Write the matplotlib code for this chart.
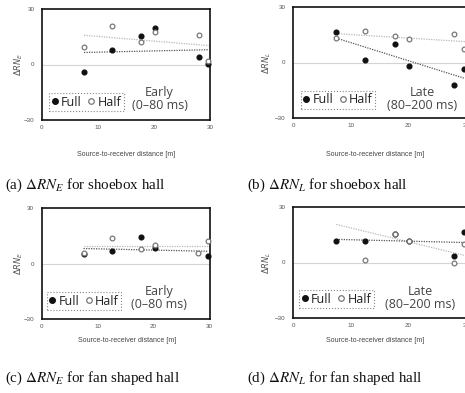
import numpy as np
import matplotlib
matplotlib.use("Agg")
import matplotlib.pyplot as plt
from matplotlib.lines import Line2D

plt.rcParams['font.family'] = ['Open Sans', 'DejaVu Sans']

# ---------------- data ----------------
distance = [7.5, 12.5, 17.7, 20.2, 28.0, 29.7]
nan = np.nan

a_full = [-3.8, 7.6, 15.5, 20.0, 4.0, 0.3]
a_half = [9.2, 20.6, 11.9, 17.7, 15.7, 2.0]
b_full = [16.4, 1.2, 10.2, -1.9, -12.2, -3.7]
b_half = [13.4, 16.8, 14.5, 12.5, 15.4, 7.3]
c_full = [5.0, 6.8, 14.2, 8.3, nan, 4.1]
c_half = [5.9, 13.6, 7.9, 9.9, 5.6, 12.2]
d_full = [11.75, 11.75, 15.5, 11.75, 3.4, 16.6]
d_half = [nan, 1.6, 15.2, 11.75, -0.4, 10.1]

trend_x = [7.5, 29.8]
a_full_trend = [6.5, 8.0]
a_half_trend = [15.8, 10.2]
b_full_trend = [13.2, -8.6]
b_half_trend = [15.6, 11.3]
c_full_trend = [8.1, 6.6]
c_half_trend = [9.2, 9.2]
d_full_trend = [12.5, 10.8]
d_half_trend = [20.6, 3.8]

x_ticks = [0, 10, 20, 30]
y_ticks = [-30, 0, 30]
ylabels = [r'$\mathit{\Delta RN_E}$', r'$\mathit{\Delta RN_L}$', r'$\mathit{\Delta RN_E}$', r'$\mathit{\Delta RN_L}$']
periods = ['Early\n(0\u201380 ms)', 'Late\n(80\u2013200 ms)', 'Early\n(0\u201380 ms)', 'Late\n(80\u2013200 ms)']
captions = ['(a) $\\mathit{\u0394RN_E}$ for shoebox hall',
            '(b) $\\mathit{\u0394RN_L}$ for shoebox hall',
            '(c) $\\mathit{\u0394RN_E}$ for fan shaped hall',
            '(d) $\\mathit{\u0394RN_L}$ for fan shaped hall']
xlabel = 'Source-to-receiver distance [m]'
legend_labels = ['Full', 'Half']

# ---------------- layout ----------------
W, H = 465, 393
fig = plt.figure(figsize=(W / 100, H / 100), dpi=100)


def px_axes(l, t, w, h):
    return fig.add_axes([l / W, 1 - (t + h) / H, w / W, h / H])


panels = [
    dict(box=(42, 9, 168, 111), full=a_full, half=a_half, ft=a_full_trend, ht=a_half_trend,
         leg=(0.042, 0.081), txt=(0.70, 0.185), ylab=-0.10),
    dict(box=(293, 7, 173, 111), full=b_full, half=b_half, ft=b_full_trend, ht=b_half_trend,
         leg=(0.045, 0.085), txt=(0.745, 0.175), ylab=-0.115),
    dict(box=(41.5, 208, 168, 111), full=c_full, half=c_half, ft=c_full_trend, ht=c_half_trend,
         leg=(0.03, 0.08), txt=(0.70, 0.19), ylab=-0.10),
    dict(box=(293, 207, 173, 111), full=d_full, half=d_half, ft=d_full_trend, ht=d_half_trend,
         leg=(0.035, 0.09), txt=(0.735, 0.18), ylab=-0.115),
]
xlabel_pos = [(126, 155), (375, 155), (127, 340), (375, 340)]
caption_pos = [(5, 185), (247, 185), (5, 378), (247, 378)]

for i, p in enumerate(panels):
    ax = px_axes(*p['box'])
    ax.set_xlim(0, 30)
    ax.set_ylim(-30, 30)
    ax.set_xticks(x_ticks)
    ax.set_yticks(y_ticks)
    ax.tick_params(length=0, labelsize=4.5, labelcolor='#555555')
    ax.tick_params(axis='x', pad=3.6)
    ax.tick_params(axis='y', pad=5.5)
    for lab in ax.get_xticklabels() + ax.get_yticklabels():
        lab.set_family('Liberation Sans')
    for s in ax.spines.values():
        s.set_linewidth(1.2)
        s.set_color('#111111')
    ax.axhline(0, color='#d4d4d4', lw=0.8, zorder=1)

    ax.plot(trend_x, p['ht'], ls=(0, (1, 1)), color='#b8b8b8', lw=0.9, zorder=2)
    ax.plot(trend_x, p['ft'], ls=(0, (1, 1)), color='#555555', lw=0.9, zorder=2)
    ax.plot(distance, p['full'], 'o', ms=3.4, color='#111111', zorder=3, clip_on=False)
    ax.plot(distance, p['half'], 'o', ms=3.4, mfc='white', mec='#777777', mew=0.9,
            zorder=4, clip_on=False)

    ax.set_ylabel(ylabels[i], fontsize=6, color='#555555', math_fontfamily='dejavusans')
    ax.yaxis.set_label_coords(p['ylab'], 0.5)

    handles = [Line2D([], [], ls='none', marker='o', ms=4, color='#111111'),
               Line2D([], [], ls='none', marker='o', ms=4, mfc='white', mec='#777777', mew=0.9)]
    leg = ax.legend(handles, legend_labels, loc='lower left', bbox_to_anchor=p['leg'],
                    ncol=2, fontsize=9, handlelength=0.5, handletextpad=0.25,
                    columnspacing=0.5, borderpad=0.2, borderaxespad=0, fancybox=False,
                    edgecolor='#888888', framealpha=1)
    leg.get_frame().set_linestyle(':')
    leg.get_frame().set_linewidth(0.8)
    for t in leg.get_texts():
        t.set_color('#222222')

    ax.text(p['txt'][0], p['txt'][1], periods[i], transform=ax.transAxes, ha='center',
            va='center', fontsize=9, color='#444444', linespacing=1.0)

    fig.text(xlabel_pos[i][0] / W, 1 - xlabel_pos[i][1] / H, xlabel, fontsize=5,
             family='Liberation Sans', color='#444444', ha='center', va='center')
    fig.text(caption_pos[i][0] / W, 1 - caption_pos[i][1] / H, captions[i], fontsize=10.8,
             family='Liberation Serif', math_fontfamily='stix', ha='left', va='center',
             color='#111111')

fig.savefig('out.png', dpi=100)
